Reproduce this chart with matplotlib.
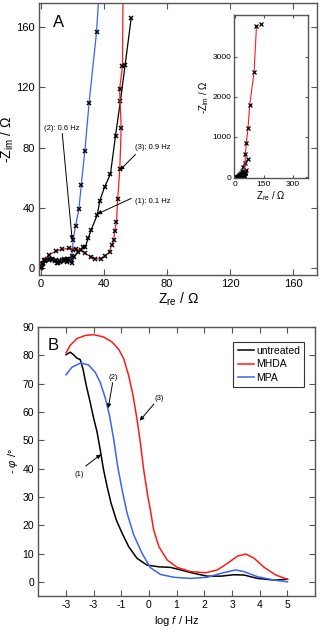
import matplotlib
matplotlib.use('Agg')
import matplotlib.pyplot as plt

plt.rcParams['font.family'] = ['Liberation Sans', 'DejaVu Sans']
plt.rcParams['mathtext.fontset'] = 'custom'
plt.rcParams['mathtext.rm'] = 'Liberation Sans'
plt.rcParams['mathtext.it'] = 'Liberation Sans:italic'

# --- panel A: Nyquist data (Z_re, -Z_im in Ohm) ---
untreated_zre = [0.6, 1.5, 2.7, 4.2, 5.9, 7.5, 9.0, 10.2, 11.2, 12.2, 13.3, 14.8,
                 16.4, 17.6, 18.5, 19.6, 21.0, 23.8, 27.0, 28.4, 30.1, 32.0,
                 35.8, 37.5, 40.5, 44.2, 47.4, 50.5, 53.5, 57.3]
untreated_zim = [0.9, 3.5, 5.3, 6.2, 6.4, 5.8, 4.6, 3.6, 3.1, 3.8, 5.3, 6.2,
                 6.4, 6.0, 5.3, 3.1, 7.5, 10.8, 14.1, 14.3, 19.9, 25.4,
                 35.3, 44.8, 54.0, 62.5, 88.0, 111.0, 135.0, 166.0]

mpa_zre = [0.5, 1.5, 3.0, 5.0, 7.5, 10.0, 12.5, 15.0, 17.0, 18.5, 19.6, 20.2,
           20.6, 22.1, 24.2, 25.7, 28.0, 30.7, 35.4, 41.0, 52.0, 68.8]
mpa_zim = [0.5, 3.0, 4.6, 5.4, 5.6, 5.4, 5.0, 4.6, 4.4, 5.0, 8.0, 12.0,
           18.8, 28.0, 39.0, 55.0, 78.0, 110.0, 157.0, 250.0, 360.0, 460.0]

mhda_zre = [0.3, 1.0, 2.1, 5.2, 9.5, 13.7, 17.9, 22.1, 25.3, 28.4, 31.6,
            34.7, 37.9, 41.0, 43.6, 44.9, 46.3, 46.9, 48.0, 48.8, 50.1,
            51.0, 50.0, 51.8, 55.0, 60.0, 68.8, 77.0, 99.7, 112.0]
mhda_zim = [0.2, 2.5, 5.3, 8.6, 11.3, 12.6, 13.1, 12.6, 12.0, 9.8, 7.5,
            6.0, 6.4, 8.0, 10.8, 15.3, 18.6, 24.8, 30.7, 46.0, 65.6,
            93.0, 119.0, 134.0, 585.0, 850.0, 1235.0, 1793.0, 2625.0, 3770.0]
# last low-frequency marker of MHDA sits off the line
mhda_extra_zre = [137.0]
mhda_extra_zim = [3817.0]

# --- panel B: Bode phase data (log f, -phi in deg) ---
mhda_logf = [-2.99, -2.84, -2.60, -2.30, -2.00, -1.64, -1.33, -1.09, -0.91,
             -0.73, -0.57, -0.43, -0.31, -0.19, -0.04, 0.05, 0.17, 0.36, 0.66,
             1.02, 1.50, 2.05, 2.47, 2.83, 3.20, 3.50, 3.80, 4.16, 4.58, 5.00]
mhda_phi = [80.9, 83.5, 85.9, 87.0, 87.3, 86.5, 84.7, 82.1, 78.8,
            72.8, 65.7, 57.4, 49.2, 39.7, 30.2, 25.5, 18.4, 12.4, 7.7,
            5.1, 3.6, 3.2, 4.2, 6.5, 9.1, 9.8, 8.3, 5.1, 2.4, 0.9]

mpa_logf = [-2.99, -2.78, -2.46, -2.18, -1.94, -1.76, -1.58, -1.42, -1.27,
            -1.13, -0.97, -0.79, -0.55, -0.25, 0.05, 0.42, 0.90, 1.50, 2.10,
            2.60, 3.13, 3.43, 3.92, 4.52, 5.00]
mpa_phi = [73.1, 75.8, 77.3, 76.6, 74.0, 70.5, 65.1, 58.6, 50.3,
           40.9, 32.6, 24.3, 16.6, 10.1, 5.0, 2.6, 1.6, 1.2, 1.6,
           3.0, 4.2, 3.6, 1.8, 0.6, 0.0]

untreated_logf = [-2.99, -2.84, -2.72, -2.60, -2.48, -2.38, -2.26, -2.12, -2.00,
                  -1.88, -1.76, -1.64, -1.51, -1.37, -1.18, -0.97, -0.73, -0.43,
                  -0.07, 0.36, 0.78, 1.14, 1.62, 2.10, 2.60, 3.07, 3.43, 3.92,
                  4.52, 5.00]
untreated_phi = [80.2, 81.1, 80.2, 79.0, 78.5, 75.2, 69.3, 63.4, 58.0,
                 53.3, 46.8, 39.7, 33.7, 27.9, 21.9, 17.2, 12.4, 8.3,
                 5.9, 5.3, 5.1, 4.2, 3.0, 2.0, 2.0, 2.5, 2.4, 1.2,
                 0.6, 0.9]

logf_ticks = [-3, -2, -1, 0, 1, 2, 3, 4, 5]
logf_ticklabels = ['-3', '-3', '-1', '0', '1', '2', '3', '4', '5']

red = '#ff1a1a'
blue = '#3a64f0'
spine_col = '#555555'


def style_axes(ax, size):
    for s in ax.spines.values():
        s.set_color(spine_col)
        s.set_linewidth(1.0)
    ax.tick_params(direction='in', top=True, right=True, length=4,
                   width=0.8, color=spine_col, labelsize=size, pad=3)


fig = plt.figure(figsize=(3.2, 6.32), dpi=100)

# panel A
axA = fig.add_axes([0.122, 0.565, 0.869, 0.430])
axA.plot(untreated_zre, untreated_zim, '-', color='black', lw=0.9,
         marker='x', ms=3.5, mew=1.1, mec='black')
axA.plot(mpa_zre, mpa_zim, '-', color=blue, lw=0.9,
         marker='x', ms=3.5, mew=1.1, mec='black')
axA.plot(mhda_zre, mhda_zim, '-', color=red, lw=0.9,
         marker='x', ms=3.5, mew=1.1, mec='black')
axA.set_xlim(-1, 175)
axA.set_ylim(-4.5, 176)
axA.set_xticks([0, 40, 80, 120, 160])
axA.set_yticks([0, 40, 80, 120, 160])
style_axes(axA, 8)
axA.set_xlabel(r'$\mathregular{Z_{re}}$ / $\Omega$', fontsize=10, labelpad=1)
axA.set_ylabel(r'-$\mathregular{Z_{im}}$ / $\Omega$', fontsize=10, labelpad=0)
axA.text(7.5, 168, 'A', fontsize=12, va='top')

ann = dict(arrowstyle='-|>', color='black', lw=0.7, mutation_scale=6,
           shrinkA=0, shrinkB=0)
axA.text(2.0, 92.8, '(2): 0.6 Hz', fontsize=5.5, va='center', ha='left')
axA.annotate('', xy=(20.0, 18.6), xytext=(13.7, 89.4), arrowprops=ann)
axA.text(59.6, 79.9, '(3): 0.9 Hz', fontsize=5.5, va='center')
axA.annotate('', xy=(50.1, 65.0), xytext=(60.0, 75.5), arrowprops=ann)
axA.text(60.0, 44.5, '(1): 0.1 Hz', fontsize=5.5, va='center')
axA.annotate('', xy=(35.8, 35.9), xytext=(57.3, 46.3), arrowprops=ann)

# inset
axI = fig.add_axes([0.731, 0.718, 0.231, 0.258])
axI.plot(untreated_zre, untreated_zim, '-', color='black', lw=0.8,
         marker='x', ms=2.5, mew=0.9, mec='black')
axI.plot(mpa_zre, mpa_zim, '-', color=blue, lw=0.8,
         marker='x', ms=2.5, mew=0.9, mec='black')
axI.plot(mhda_zre, mhda_zim, '-', color=red, lw=0.8,
         marker='x', ms=2.5, mew=0.9, mec='black')
axI.plot(mhda_extra_zre, mhda_extra_zim, 'x', ms=2.5, mew=0.9, color='black')
axI.set_xlim(-4, 376)
axI.set_ylim(-30, 4040)
axI.set_xticks([0, 150, 300])
axI.set_yticks([0, 1000, 2000, 3000])
style_axes(axI, 6)
axI.tick_params(length=2.5, pad=2)
axI.set_xlabel(r'$\mathregular{Z_{re}}$ / $\Omega$', fontsize=7, labelpad=1)
axI.set_ylabel(r'-$\mathregular{Z_{im}}$ / $\Omega$', fontsize=7, labelpad=1)

# panel B
axB = fig.add_axes([0.119, 0.057, 0.866, 0.4256])
axB.plot(untreated_logf, untreated_phi, color='black', lw=1.1, label='untreated')
axB.plot(mhda_logf, mhda_phi, color=red, lw=1.1, label='MHDA')
axB.plot(mpa_logf, mpa_phi, color=blue, lw=1.1, label='MPA')
axB.set_xlim(-4, 6)
axB.set_ylim(-5, 90)
axB.set_xticks(logf_ticks)
axB.set_xticklabels(logf_ticklabels)
axB.set_yticks(range(0, 91, 10))
style_axes(axB, 7.5)
axB.set_xlabel(r'log $f$ / Hz', fontsize=8, labelpad=3)
axB.set_ylabel(r'- $\varphi$ /°', fontsize=8, labelpad=2)
axB.text(-3.65, 86, 'B', fontsize=12, va='top')

leg = axB.legend(loc='upper right', bbox_to_anchor=(0.98, 0.965), fontsize=7.5,
                 handlelength=1.6, handletextpad=0.2, borderpad=0.4,
                 labelspacing=0.35, fancybox=False, framealpha=1)
leg.get_frame().set_edgecolor('#333333')
leg.get_frame().set_linewidth(0.8)

annB = dict(arrowstyle='-|>', color='black', lw=0.7, mutation_scale=6,
            shrinkA=0, shrinkB=0)
axB.text(-2.52, 37.9, '(1)', fontsize=5.5, ha='center', va='center')
axB.annotate('', xy=(-1.73, 45.0), xytext=(-2.28, 40.9), arrowprops=annB)
axB.text(-1.29, 72.0, '(2)', fontsize=5.5, ha='center', va='center')
axB.annotate('', xy=(-1.47, 61.3), xytext=(-1.31, 70.3), arrowprops=annB)
axB.text(0.37, 64.6, '(3)', fontsize=5.5, ha='center', va='center')
axB.annotate('', xy=(-0.33, 56.9), xytext=(0.18, 62.8), arrowprops=annB)

fig.savefig('out.png', dpi=100)
